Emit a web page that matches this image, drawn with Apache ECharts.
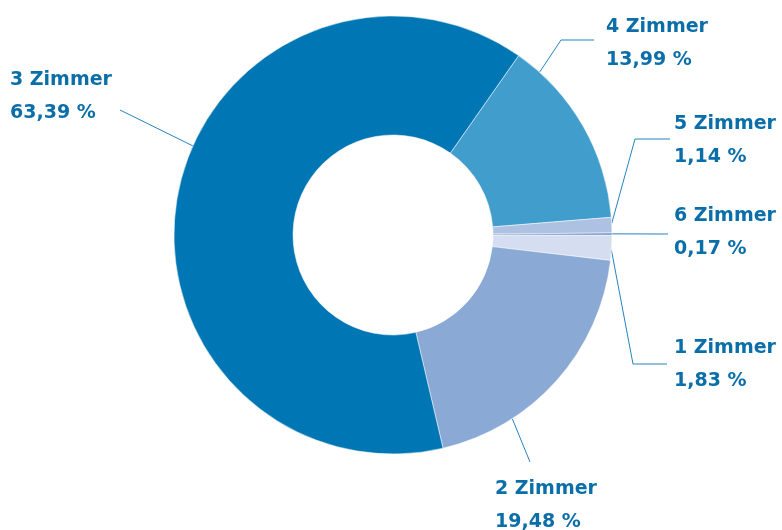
<!DOCTYPE html>
<html>
<head>
<meta charset="utf-8">
<style>
  html, body { margin: 0; padding: 0; background: #fff; }
  #chart { width: 782px; height: 530px; }
</style>
<script src="https://cdn.jsdelivr.net/npm/echarts@6/dist/echarts.min.js"></script>
</head>
<body>
<div id="chart"></div>
<script>
  // clockwise from the 4 Zimmer slice
  const categories = ['4 Zimmer', '5 Zimmer', '6 Zimmer', '1 Zimmer', '2 Zimmer', '3 Zimmer'];
  const shares = [13.99, 1.14, 0.17, 1.83, 19.48, 63.39];
  const colors = ['#419dcb', '#adc2e2', '#6a90c8', '#d5def0', '#8aa9d4', '#0077b4'];

  (function(){
    'use strict';

    const cx = 393, cy = 235, rOut = 219, rIn = 100;

    // label placement: text top-left, line start angle (deg clockwise from top), elbow
    const place = [
      { x: 606, y: 11,  ang: 42,  elbow: [561, 40],  end: [594, 40] },
      { x: 674, y: 108, ang: 87,  elbow: [635, 139], end: [670, 139] },
      { x: 674, y: 200, ang: 89.7, elbow: null,      end: [668, 234] },
      { x: 674, y: 332, ang: 94,  elbow: [633, 364], end: [667, 364] },
      { x: 495, y: 473, ang: 147, elbow: null,       end: [530, 462] },
      { x: 10,  y: 64,  ang: 294, elbow: null,       end: [120, 110] }
    ];

    function edge(ang){
      const a = ang * Math.PI / 180;
      return [cx + rOut * Math.sin(a), cy - rOut * Math.cos(a)];
    }

    const chart = echarts.init(document.getElementById('chart'), null, { renderer: 'canvas' });
    chart.setOption({
      animation: false,
      series: [{
        type: 'pie',
        center: [cx, cy],
        radius: [rIn, rOut],
        startAngle: 90 - 35,
        clockwise: true,
        avoidLabelOverlap: false,
        data: categories.map((name, i)=>({
          name: name,
          value: shares[i],
          itemStyle: { color: colors[i] }
        })),
        itemStyle: { borderColor: '#ffffff', borderWidth: 0.5 },
        emphasis: { disabled: true },
        label: {
          show: true,
          formatter: (p)=> p.name + '\n' + p.value.toFixed(2).replace('.', ',') + ' %',
          color: '#0a6ea9',
          fontFamily: 'DejaVu Sans',
          fontWeight: 'bold',
          fontSize: 19,
          lineHeight: 33,
          align: 'left'
        },
        labelLine: {
          show: true,
          length: 10,
          length2: 10,
          lineStyle: { color: '#2583bd', width: 1 }
        },
        labelLayout: (params)=>{
          const p = place[params.dataIndex];
          const pts = [edge(p.ang)];
          if(p.elbow) pts.push(p.elbow);
          pts.push(p.end);
          return {
            x: p.x,
            y: p.y,
            align: 'left',
            verticalAlign: 'top',
            labelLinePoints: pts
          };
        }
      }]
    });
  })();
</script>
</body>
</html>
